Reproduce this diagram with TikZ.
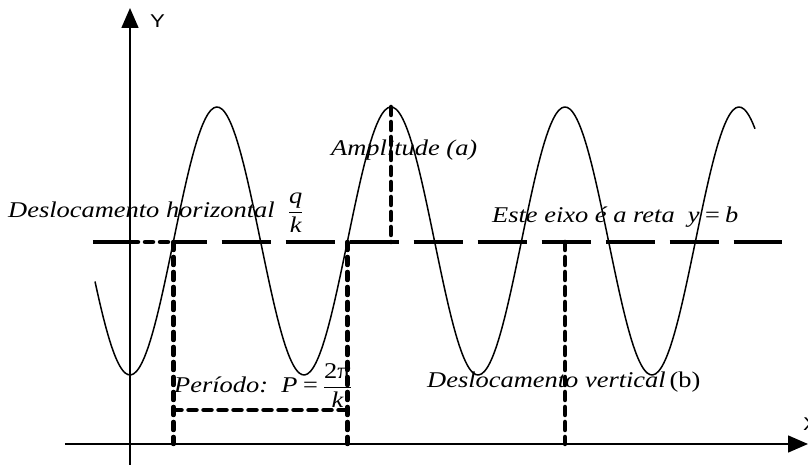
\documentclass[tikz,border=0pt]{standalone}
\usepackage{amsmath}
\usepackage{fontspec}
\setmainfont{Liberation Serif}[FakeStretch=1.175]
\setsansfont{Liberation Sans}[FakeStretch=1.2]
\usepackage{tikz}
\usetikzlibrary{calc, arrows.meta}
\usepackage{tkz-euclide}

\tikzset{
  eixo/.style={line width=1.5pt, -{Triangle[length=20pt,width=17pt]}},
  onda/.style={line width=1.5pt, domain=-35:625, samples=240, smooth},
  pontilhado/.style={line width=4.5pt, dash pattern=on 8pt off 7pt},
  tracejado/.style={line width=4pt, dash pattern=on 49pt off 15pt},
  rotulo/.style={font=\fontsize{22.5}{25}\selectfont\itshape, inner sep=0pt, anchor=base west},
  letra/.style={font=\sffamily\fontsize{18.5}{20}\selectfont, inner sep=0pt, anchor=base west},
}

\begin{document}
\begin{tikzpicture}[x=1pt, y=1pt]
            \useasboundingbox (-130,-26) rectangle (678,444);
            \tkzDefPoints{0/-21/O_y, 0/436/T_y, -65/0/O_x, 678/0/T_x}
            \tkzDefPoints{-37/202/M_1, 0/202/M_2, 43.5/202/M_3, 652/202/M_4}
            \tkzDefPoints{43.5/0/P_1, 217.5/202/M_5, 217.5/0/P_2, 43.5/34/Q_1, 217.5/34/Q_2}
            \tkzDefPoints{261/337/A, 261/202/A_0, 435/202/B, 435/0/B_0}
            % eixos
            \draw[eixo] (O_y) -- (T_y);
            \draw[eixo] (O_x) -- (T_x);
            \node[letra] (y) at (20,416) {Y};
            \node[letra] (x) at (673,13) {X};
            % a onda
            \draw[onda] plot (\x, {203-134*cos(2.06897*\x)});
            % eixo da onda y = b
            \draw[line width=4pt] (M_1) -- (M_2);
            \draw[tracejado, dash phase=16pt] (M_3) -- (M_4);
            \tkzDrawSegments[pontilhado](M_2,M_3 M_3,P_1 M_5,P_2 Q_1,Q_2 A,A_0 B,B_0)
            % textos
            \node[rotulo] (horiz) at (-122,226) {Deslocamento horizontal\ \ $\dfrac{\mbox{q}}{\mbox{k}}$};
            \node[rotulo] (ampl) at (201,288) {Amplitude (a)};
            \node[rotulo] (reta) at (362,221) {Este eixo é a reta\ \ y\,=\,b};
            \node[rotulo] (periodo) at (44,51) {Período:\ \ P\,=\,$\dfrac{\mbox{\upshape 2π}}{\mbox{k}}$};
            \node[rotulo] (vert) at (297,56) {Deslocamento vertical\,{\upshape(b)}};
        \end{tikzpicture}
\end{document}
